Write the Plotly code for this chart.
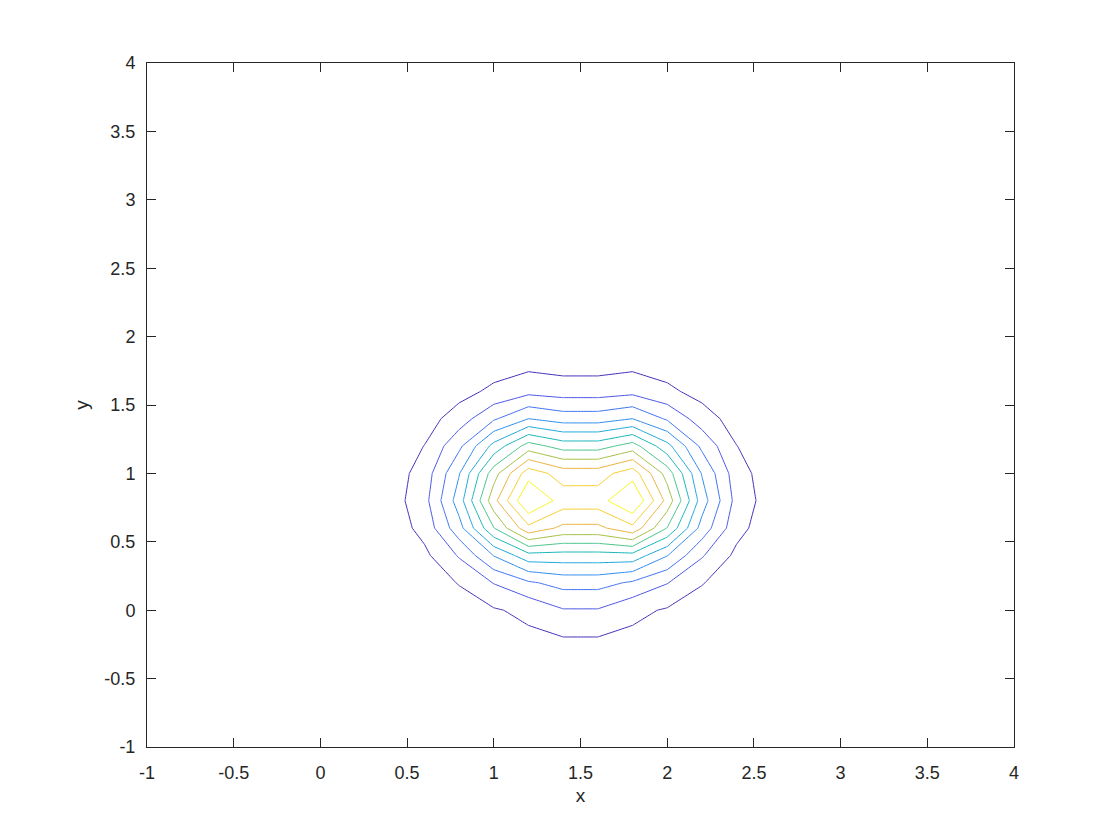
import plotly.graph_objects as go

# grid coordinates (data units)
x_grid = [0.2, 0.4, 0.6, 0.8, 1.0, 1.2, 1.4, 1.6, 1.8, 2.0, 2.2, 2.4, 2.6, 2.8]
y_grid = [-0.6, -0.4, -0.2, 0.0, 0.2, 0.4, 0.6, 0.8, 1.0, 1.2, 1.4, 1.6, 1.8, 2.0, 2.2]

# surface values (one row per y value)
z_rows = [
    [0.00, 0.00, 0.01, 0.03, 0.06, 0.09, 0.10, 0.10, 0.09, 0.06, 0.03, 0.01, 0.00, 0.00],
    [0.00, 0.01, 0.04, 0.11, 0.22, 0.30, 0.38, 0.38, 0.30, 0.22, 0.11, 0.04, 0.01, 0.00],
    [0.01, 0.03, 0.11, 0.30, 0.57, 0.80, 0.98, 0.98, 0.80, 0.57, 0.30, 0.11, 0.03, 0.01],
    [0.01, 0.05, 0.17, 0.47, 0.90, 1.25, 1.93, 1.93, 1.25, 0.90, 0.47, 0.17, 0.05, 0.01],
    [0.03, 0.12, 0.39, 1.06, 2.04, 2.85, 3.35, 3.35, 2.85, 2.04, 1.06, 0.39, 0.12, 0.03],
    [0.06, 0.23, 0.77, 2.10, 4.04, 5.64, 5.60, 5.60, 5.64, 4.04, 2.10, 0.77, 0.23, 0.06],
    [0.10, 0.39, 1.33, 3.62, 6.96, 9.73, 8.75, 8.75, 9.73, 6.96, 3.62, 1.33, 0.39, 0.10],
    [0.12, 0.49, 1.65, 4.50, 8.66, 12.10, 10.55, 10.55, 12.10, 8.66, 4.50, 1.65, 0.49, 0.12],
    [0.11, 0.43, 1.44, 3.94, 7.57, 10.58, 9.55, 9.55, 10.58, 7.57, 3.94, 1.44, 0.43, 0.11],
    [0.07, 0.30, 1.02, 2.77, 5.33, 7.45, 6.56, 6.56, 7.45, 5.33, 2.77, 1.02, 0.30, 0.07],
    [0.04, 0.16, 0.55, 1.49, 2.86, 4.00, 3.53, 3.53, 4.00, 2.86, 1.49, 0.55, 0.16, 0.04],
    [0.02, 0.07, 0.23, 0.64, 1.22, 1.71, 1.54, 1.54, 1.71, 1.22, 0.64, 0.23, 0.07, 0.02],
    [0.01, 0.03, 0.10, 0.27, 0.52, 0.72, 0.58, 0.58, 0.72, 0.52, 0.27, 0.10, 0.03, 0.01],
    [0.00, 0.01, 0.03, 0.09, 0.18, 0.25, 0.18, 0.18, 0.25, 0.18, 0.09, 0.03, 0.01, 0.00],
    [0.00, 0.00, 0.01, 0.03, 0.05, 0.07, 0.05, 0.05, 0.07, 0.05, 0.03, 0.01, 0.00, 0.00],
]

# contour levels and their line colours
level_values = [1, 2, 3, 4, 5, 6, 7, 8, 9, 10, 11]
level_colors = ["#4030b8", "#4a55e4", "#3e70f2", "#2f8cee", "#1ea6da", "#16b5b8",
                "#48c38a", "#a3bf44", "#ecb13c", "#f7cd2e", "#f5f41c"]

tick_vals = [-1, -0.5, 0, 0.5, 1, 1.5, 2, 2.5, 3, 3.5, 4]
tick_text = ["-1", "-0.5", "0", "0.5", "1", "1.5", "2", "2.5", "3", "3.5", "4"]

lo, hi = level_values[0], level_values[-1]
colorscale = [[(v - lo) / (hi - lo), c] for v, c in zip(level_values, level_colors)]

fig = go.Figure(go.Contour(
    x=x_grid, y=y_grid, z=z_rows,
    contours=dict(start=lo, end=hi, size=1, coloring="lines"),
    colorscale=colorscale, zauto=False, zmin=lo, zmax=hi,
    line=dict(width=1, smoothing=0),
    showscale=False, hoverinfo="skip",
))

font_family = "Liberation Sans, Arial, sans-serif"
axis_common = dict(
    range=[-1, 4], tickvals=tick_vals, ticktext=tick_text,
    showgrid=False, zeroline=False, showline=True, linecolor="#262626", linewidth=1,
    mirror="ticks", ticks="inside", ticklen=9, tickwidth=1, tickcolor="#262626",
    tickfont=dict(family=font_family, size=18, color="#262626"),
)

fig.update_layout(
    width=1120, height=840,
    margin=dict(l=139, r=114, t=55, b=101),
    paper_bgcolor="white", plot_bgcolor="white",
    showlegend=False,
    xaxis=dict(**axis_common, ticklabelstandoff=9,
               title=dict(text="x", standoff=7,
                          font=dict(family=font_family, size=19, color="#262626"))),
    yaxis=dict(**axis_common, ticklabelstandoff=7,
               title=dict(text="y", standoff=10,
                          font=dict(family=font_family, size=19, color="#262626"))),
)

fig.write_html("out.html")
